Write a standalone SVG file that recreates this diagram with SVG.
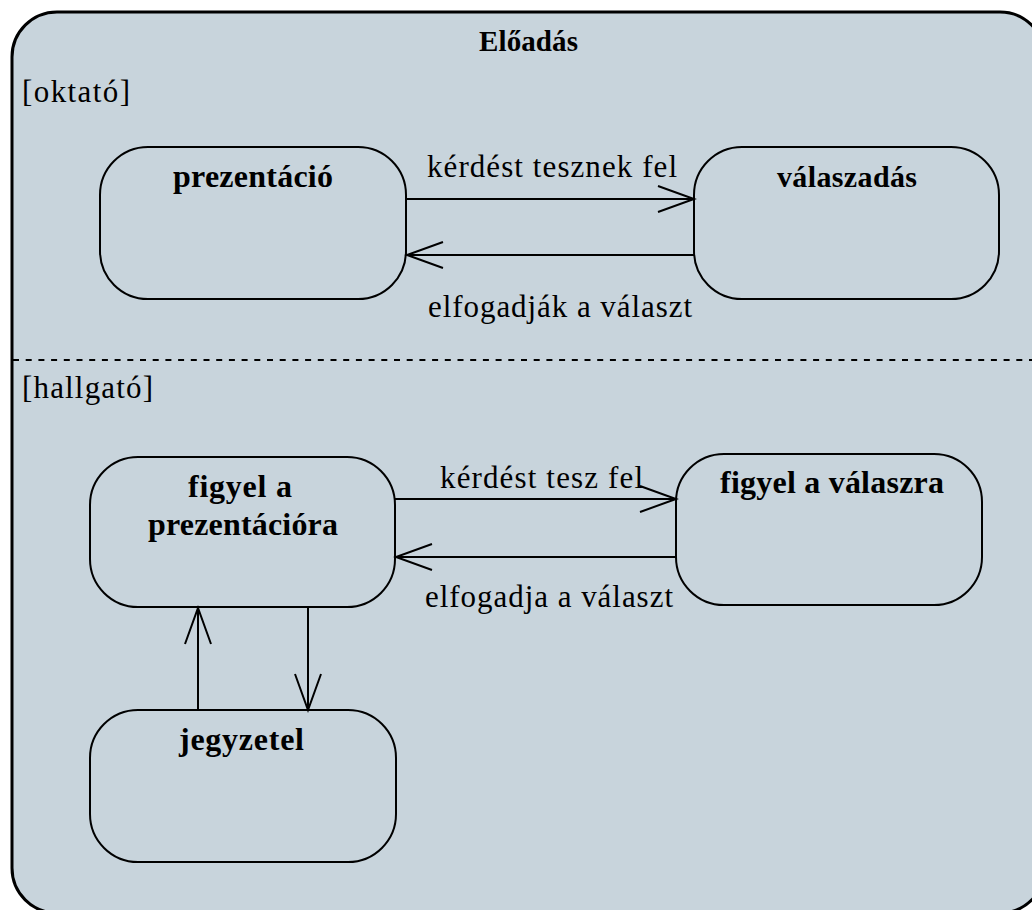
<svg xmlns="http://www.w3.org/2000/svg" width="1032" height="910" viewBox="0 0 1032 910">
  <style>
    .frame { fill: #c8d4dc; stroke: #000; stroke-width: 3; }
    .state { fill: #c8d4dc; stroke: #000; stroke-width: 2; }
    .edge { fill: none; stroke: #000; stroke-width: 2; }
    .sep { fill: none; stroke: #000; stroke-width: 2; stroke-dasharray: 6 6.7; }
    .title { font-family: "Liberation Serif", "Times New Roman", Times, serif; font-size: 32px; font-weight: bold; fill: #000; }
    .label { font-family: "Liberation Serif", "Times New Roman", Times, serif; font-size: 31px; fill: #000; }
  </style>
  <defs>
    <marker id="open" viewBox="-40 -16 44 32" refX="0" refY="0" markerWidth="44" markerHeight="32" markerUnits="userSpaceOnUse" orient="auto">
      <path d="M-36,-13 L0,0 L-36,13" fill="none" stroke="#000" stroke-width="2"/>
    </marker>
  </defs>

  <rect width="1032" height="910" fill="#ffffff"/>

  <!-- composite state with two regions -->
  <g id="eloadas">
    <rect class="frame" x="12" y="12" width="1033" height="901" rx="45" ry="45"/>
    <text class="title" x="479" y="51" style="font-size:29px" textLength="99" lengthAdjust="spacing">Előadás</text>
    <line class="sep" x1="13" y1="360" x2="1032" y2="360"/>
    <text class="label" x="22" y="102" textLength="108" lengthAdjust="spacing">[oktató]</text>
    <text class="label" x="22" y="398" textLength="131" lengthAdjust="spacing">[hallgató]</text>
  </g>

  <!-- upper region states -->
  <g id="prezentacio">
    <rect class="state" x="100" y="147" width="306" height="152" rx="48" ry="48"/>
    <text class="title" x="173" y="187" textLength="160" lengthAdjust="spacing">prezentáció</text>
  </g>
  <g id="valaszadas">
    <rect class="state" x="694" y="147" width="305" height="152" rx="48" ry="48"/>
    <text class="title" x="777" y="187" style="font-size:30px" textLength="140" lengthAdjust="spacing">válaszadás</text>
  </g>

  <!-- lower region states -->
  <g id="figyel-prezentaciora">
    <rect class="state" x="90" y="457" width="305" height="150" rx="48" ry="48"/>
    <text class="title" x="188" y="497" textLength="104" lengthAdjust="spacing">figyel a</text>
    <text class="title" x="148" y="535" textLength="190" lengthAdjust="spacing">prezentációra</text>
  </g>
  <g id="figyel-valaszra">
    <rect class="state" x="676" y="454" width="306" height="151" rx="48" ry="48"/>
    <text class="title" x="720" y="493" textLength="224" lengthAdjust="spacing">figyel a válaszra</text>
  </g>
  <g id="jegyzetel">
    <rect class="state" x="90" y="710" width="306" height="152" rx="48" ry="48"/>
    <text class="title" x="179" y="750" textLength="125" lengthAdjust="spacing">jegyzetel</text>
  </g>

  <!-- transitions -->
  <g id="connectors">
    <line class="edge" x1="406" y1="199" x2="694" y2="199" marker-end="url(#open)"/>
    <text class="label" x="427" y="177" textLength="250" lengthAdjust="spacing">kérdést tesznek fel</text>
    <line class="edge" x1="694" y1="255" x2="407" y2="255" marker-end="url(#open)"/>
    <text class="label" x="428" y="317" textLength="264" lengthAdjust="spacing">elfogadják a választ</text>

    <line class="edge" x1="395" y1="499" x2="676" y2="499" marker-end="url(#open)"/>
    <text class="label" x="440" y="488" textLength="203" lengthAdjust="spacing">kérdést tesz fel</text>
    <line class="edge" x1="676" y1="557" x2="396" y2="557" marker-end="url(#open)"/>
    <text class="label" x="425" y="607" textLength="248" lengthAdjust="spacing">elfogadja a választ</text>

    <line class="edge" x1="198" y1="710" x2="198" y2="608" marker-end="url(#open)"/>
    <line class="edge" x1="308" y1="607" x2="308" y2="710" marker-end="url(#open)"/>
  </g>
</svg>
